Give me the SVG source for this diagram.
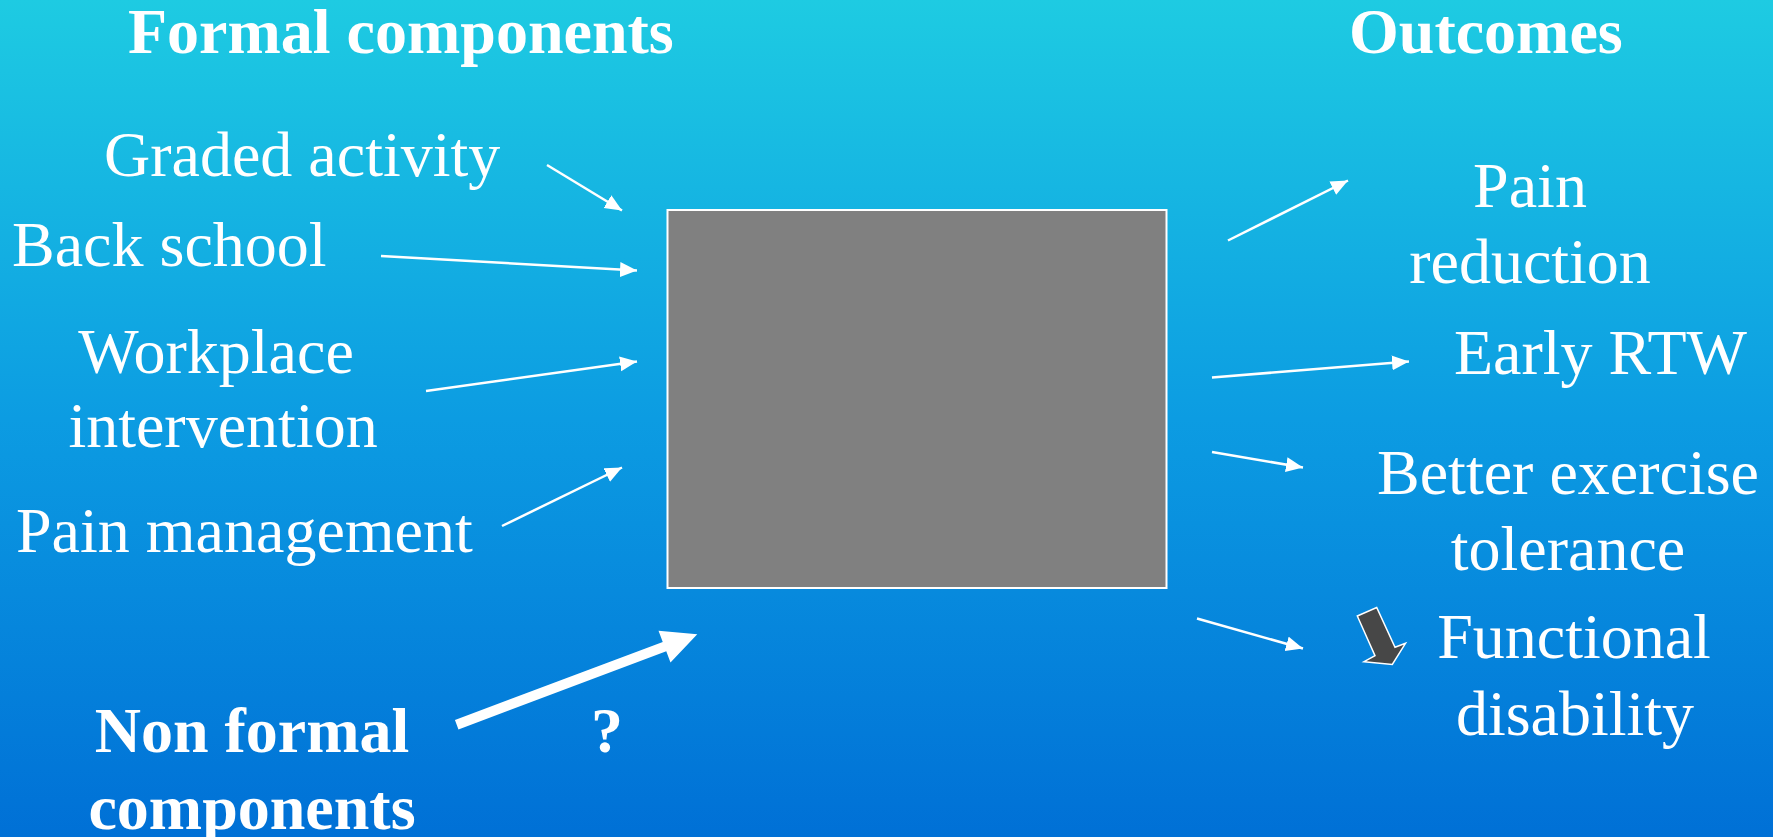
<svg xmlns="http://www.w3.org/2000/svg" width="1773" height="837" viewBox="0 0 1773 837">
<defs>
<linearGradient id="bg" x1="0" y1="0" x2="0" y2="1">
<stop offset="0" stop-color="#1ECBE2"/>
<stop offset="0.5" stop-color="#0C9CE2"/>
<stop offset="1" stop-color="#0070D6"/>
</linearGradient>
<marker id="ah" markerUnits="userSpaceOnUse" markerWidth="18" markerHeight="16" refX="17" refY="7.5" orient="auto">
<path d="M0,0 L17,7.5 L0,15 z" fill="#FFFFFF"/>
</marker>
<style>
.t{font-family:"Liberation Serif","Times New Roman",serif;font-size:64px;fill:#FFFFFF}
.b{font-weight:bold}
.c{stroke:#FFFFFF;stroke-width:2.5;fill:none;marker-end:url(#ah)}
</style>
</defs>
<rect x="0" y="0" width="1773" height="837" fill="url(#bg)"/>

<g id="headers">
<text class="t b" x="128" y="53">Formal components</text>
<text class="t b" x="1349" y="53">Outcomes</text>
</g>

<g id="center-box">
<rect x="667.5" y="210" width="499" height="378" fill="#808080" stroke="#FFFFFF" stroke-width="2"/>
</g>

<g id="n-graded"><text class="t" x="104" y="176">Graded activity</text></g>
<g id="n-back"><text class="t" x="12" y="266">Back school</text></g>
<g id="n-workplace"><text class="t" text-anchor="middle"><tspan x="216" y="373">Workplace</tspan><tspan x="223" y="447">intervention</tspan></text></g>
<g id="n-pain"><text class="t" x="16" y="552">Pain management</text></g>
<g id="n-nonformal"><text class="t b" text-anchor="middle"><tspan x="252" y="752">Non formal</tspan><tspan x="252" y="829">components</tspan></text></g>
<g id="n-question"><text class="t b" text-anchor="middle" x="607" y="752">?</text></g>

<g id="o-pain"><text class="t" text-anchor="middle"><tspan x="1530" y="207">Pain</tspan><tspan x="1530" y="283">reduction</tspan></text></g>
<g id="o-rtw"><text class="t" x="1454" y="374">Early RTW</text></g>
<g id="o-exercise"><text class="t" text-anchor="middle"><tspan x="1568" y="494">Better exercise</tspan><tspan x="1568" y="570">tolerance</tspan></text></g>
<g id="o-functional"><text class="t" text-anchor="middle"><tspan x="1574" y="658">Functional</tspan><tspan x="1575" y="735">disability</tspan></text></g>

<g id="connectors">
<line class="c" x1="547" y1="165" x2="622" y2="210.5"/>
<line class="c" x1="381" y1="256" x2="637" y2="270.5"/>
<line class="c" x1="426" y1="391" x2="637" y2="361.5"/>
<line class="c" x1="502" y1="526" x2="622" y2="467.5"/>
<line class="c" x1="1228" y1="240.5" x2="1348" y2="180.5"/>
<line class="c" x1="1212" y1="377.5" x2="1409" y2="361.5"/>
<line class="c" x1="1212" y1="452" x2="1303" y2="467.5"/>
<line class="c" x1="1197" y1="618.5" x2="1303" y2="648.5"/>
<g transform="translate(456.7,724.7) rotate(-20.6)">
<polygon points="0,-5 222,-5 222,-17 257,0 222,17 222,5 0,5" fill="#FFFFFF"/>
</g>
</g>

<g id="decrease-arrow">
<polygon points="1357.3,616 1376.7,607.5 1395,647.3 1405.5,643.3 1392.3,664.5 1364,661.7 1375,655.7" fill="#474747" stroke="#FFFFFF" stroke-width="1.5" stroke-linejoin="miter"/>
</g>
</svg>
